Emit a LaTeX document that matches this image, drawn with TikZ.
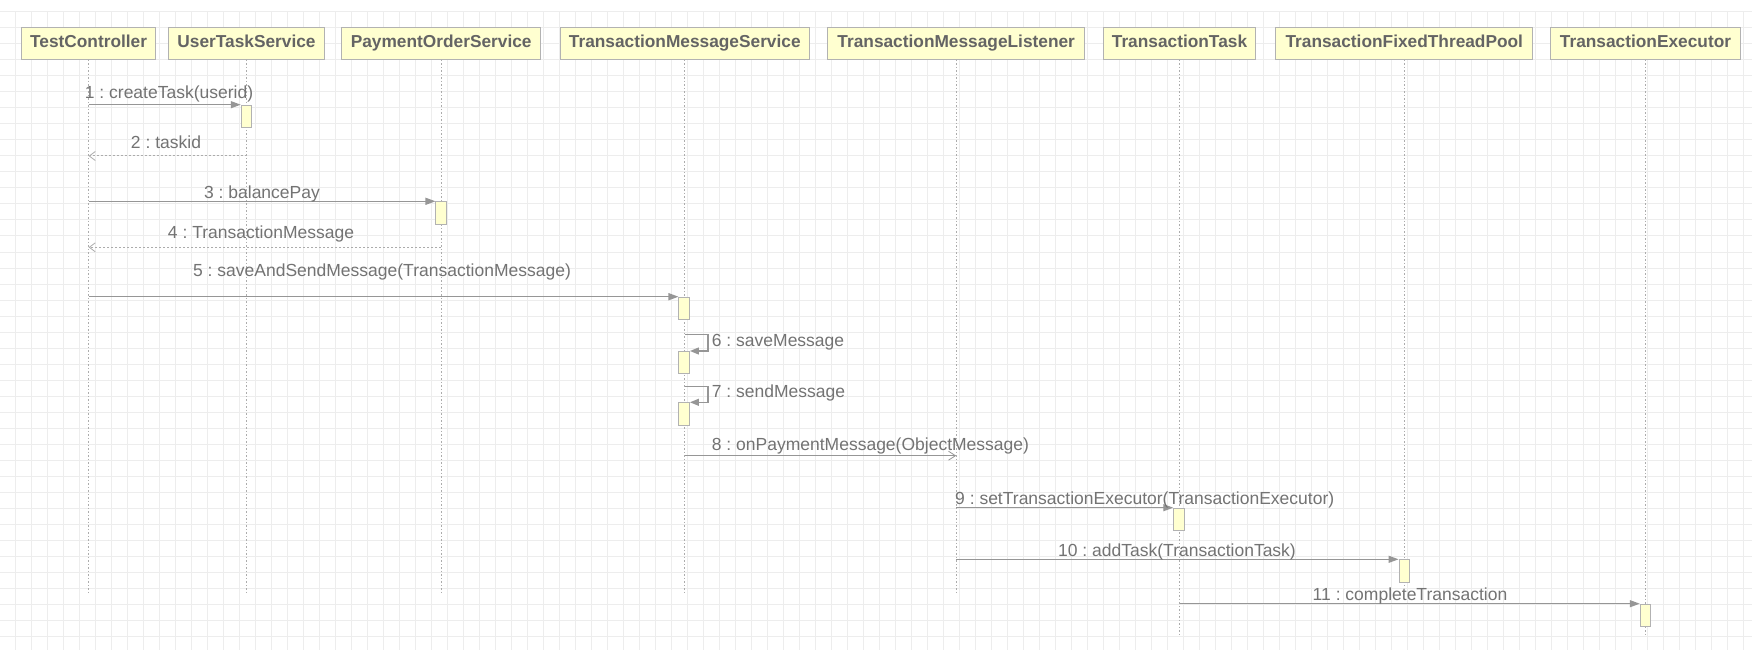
\documentclass[tikz,border=0pt]{standalone}
\usepackage{fontspec}
\setmainfont{Liberation Sans}
\usetikzlibrary{arrows.meta}
\definecolor{gridc}{RGB}{237,237,237}
\definecolor{boxfill}{RGB}{255,255,208}
\definecolor{boxdraw}{RGB}{178,178,178}
\definecolor{headtext}{RGB}{100,100,100}
\definecolor{lbltext}{RGB}{115,115,115}
\definecolor{arrowc}{RGB}{150,150,150}
\definecolor{lifec}{RGB}{172,172,172}
\frenchspacing
\begin{document}
\begin{tikzpicture}[x=1pt,y=-1pt,
 part/.style={draw=boxdraw, fill=boxfill, line width=1pt, minimum height=31.6pt, inner sep=0pt,
   text height=12pt, text depth=4.4pt,
   font=\fontsize{17.3}{20}\selectfont\bfseries, text=headtext},
 act/.style={draw=boxdraw, fill=boxfill, line width=1pt, minimum width=10.5pt, minimum height=22.3pt, inner sep=0pt, anchor=north},
 life/.style={draw=lifec, line width=1pt, dash pattern=on 1.5pt off 2pt},
 msg/.style={draw=arrowc, line width=1.3pt, -{Triangle[length=10pt,width=7pt]}},
 selfmsg/.style={draw=arrowc, line width=1.3pt, -{Triangle[length=9pt,width=7pt]}},
 ret/.style={draw=lifec, line width=1pt, dash pattern=on 2pt off 2pt, -{Straight Barb[length=6pt,width=9pt,line width=0.8pt]}},
 async/.style={draw=arrowc, line width=1pt, -{Straight Barb[length=7pt,width=9pt,line width=0.8pt]}},
 lbl/.style={font=\fontsize{17.5}{20}\selectfont, text=lbltext, inner sep=0pt, anchor=base},
 lbll/.style={lbl, anchor=base west},
 gridline/.style={draw=gridc, line width=1pt}
]
\useasboundingbox (0,0) rectangle (1759,663);
\fill[white] (0,0) rectangle (1759,663);
% grid
\foreach \i in {0,...,108} \draw[gridline] ({15+16*\i},12) -- ({15+16*\i},650);
\foreach \j in {0,...,39} \draw[gridline] (0,{12+16*\j}) -- (1752,{12+16*\j});

% participants
\node[part, minimum width=134pt]   (tc)   at (88.6,43.5)   {TestController};
\node[part, minimum width=155.7pt] (uts)  at (246.5,43.5)  {UserTaskService};
\node[part, minimum width=199.3pt] (pos)  at (441.2,43.5)  {PaymentOrderService};
\node[part, minimum width=249.5pt] (tms)  at (684.8,43.5)  {TransactionMessageService};
\node[part, minimum width=256.8pt] (tml)  at (956.2,43.5)  {TransactionMessageListener};
\node[part, minimum width=152.5pt] (tt)   at (1179.5,43.5) {TransactionTask};
\node[part, minimum width=256.8pt] (tftp) at (1404.3,43.5) {TransactionFixedThreadPool};
\node[part, minimum width=189.6pt] (te)   at (1645.5,43.5) {TransactionExecutor};

% lifeline ends
\coordinate (tcE)   at (88.6,594);
\coordinate (utsE)  at (246.5,594);
\coordinate (posE)  at (441.2,594);
\coordinate (tmsE)  at (684.8,594);
\coordinate (tmlE)  at (956.2,594);
\coordinate (ttE)   at (1179.5,637);
\coordinate (tftpE) at (1404.3,585);
\coordinate (teE)   at (1645.5,637);
\draw[life] (tc.south) -- (tcE);
\draw[life] (uts.south) -- (utsE);
\draw[life] (pos.south) -- (posE);
\draw[life] (tms.south) -- (tmsE);
\draw[life] (tml.south) -- (tmlE);
\draw[life] (tt.south) -- (ttE);
\draw[life] (tftp.south) -- (tftpE);
\draw[life] (te.south) -- (teE);

% activations
\node[act] (a1)  at (246.5,104.7) {};
\node[act] (a3)  at (441.2,201.3) {};
\node[act] (a5)  at (684.2,296.7) {};
\node[act] (a6)  at (684.2,351) {};
\node[act] (a7)  at (684.2,402.3) {};
\node[act] (a9)  at (1179,507.7) {};
\node[act] (a10) at (1404.3,559.3) {};
\node[act] (a11) at (1645.5,603.7) {};

% message endpoints on lifelines
\coordinate (m1)  at (88.6,104.7);
\coordinate (m2s) at (246.5,156);
\coordinate (m2t) at (88.6,156);
\coordinate (m3)  at (88.6,201.3);
\coordinate (m4s) at (441.2,247.3);
\coordinate (m4t) at (88.6,247.3);
\coordinate (m5)  at (88.6,296.7);
\coordinate (m6)  at (684.8,334.7);
\coordinate (m7)  at (684.8,386.3);
\coordinate (m8s) at (684.8,455.7);
\coordinate (m8t) at (956.2,455.7);
\coordinate (m9)  at (956.2,507.7);
\coordinate (m10) at (956.2,559.3);
\coordinate (m11) at (1179.5,603.7);

% messages
\draw[msg] (m1) -- (a1.north west);
\draw[ret] (m2s) -- (m2t);
\draw[msg] (m3) -- (a3.north west);
\draw[ret] (m4s) -- (m4t);
\draw[msg] (m5) -- (a5.north west);
\draw[selfmsg] (m6) -- ++(23.3,0) |- (a6.north east);
\draw[selfmsg] (m7) -- ++(23.3,0) |- (a7.north east);
\draw[async] (m8s) -- (m8t);
\draw[msg] (m9) -- (a9.north west);
\draw[msg] (m10) -- (a10.north west);
\draw[msg] (m11) -- (a11.north west);

% labels
\node[lbl]  (l1)  at (169,98.7)    {1 : createTask(userid)};
\node[lbl]  (l2)  at (166,148.7)   {2 : taskid};
\node[lbl]  (l3)  at (262,198.7)   {3 : balancePay};
\node[lbl]  (l4)  at (261,238.7)   {4 : TransactionMessage};
\node[lbl]  (l5)  at (382,276.7)   {5 : saveAndSendMessage(TransactionMessage)};
\node[lbll] (l6)  at (711.7,346)   {6 : saveMessage};
\node[lbll] (l7)  at (711.7,397)   {7 : sendMessage};
\node[lbll] (l8)  at (711.7,450.3) {8 : onPaymentMessage(ObjectMessage)};
\node[lbll] (l9)  at (955,504.3)   {9 : setTransactionExecutor(TransactionExecutor)};
\node[lbl]  (l10) at (1177,556)    {10 : addTask(TransactionTask)};
\node[lbl]  (l11) at (1410,600)    {11 : completeTransaction};
\end{tikzpicture}
\end{document}
